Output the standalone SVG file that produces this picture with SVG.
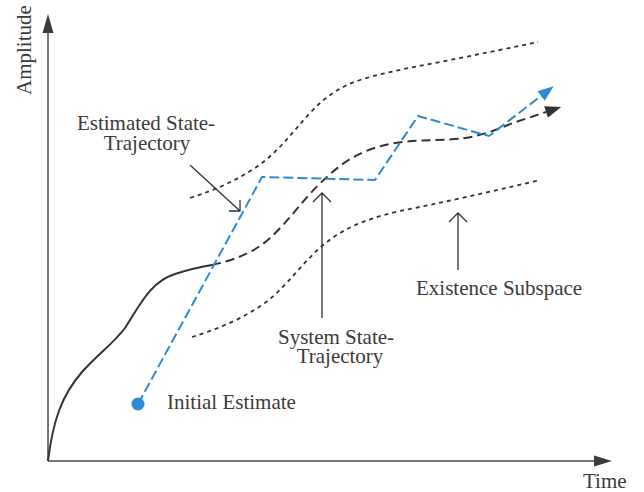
<svg xmlns="http://www.w3.org/2000/svg" width="644" height="492" viewBox="0 0 644 492">
  <style>
    .lbl { font-family: "Liberation Serif", "Times New Roman", serif; font-size: 21px; fill: #3b3b3b; }
    .axis { stroke: #4a4a4a; stroke-width: 1.5; fill: none; }
    .bound { stroke: #333; stroke-width: 1.8; fill: none; stroke-dasharray: 4 4; }
    .sys { stroke: #333; stroke-width: 2; fill: none; }
    .est { stroke: #2f8bd0; stroke-width: 2; fill: none; stroke-dasharray: 10 4; }
    .ptr { stroke: #333; stroke-width: 1.3; fill: none; }
  </style>
  <defs>
    <marker id="head-dark" viewBox="0 0 16 12" refX="0" refY="6" markerWidth="16" markerHeight="12" orient="auto" markerUnits="userSpaceOnUse">
      <path d="M0,0 L16,6 L0,12 Z" fill="#333"/>
    </marker>
    <marker id="head-blue" viewBox="0 0 16 12" refX="0" refY="6" markerWidth="16" markerHeight="12" orient="auto" markerUnits="userSpaceOnUse">
      <path d="M0,0 L16,6 L0,12 Z" fill="#2f8bd0"/>
    </marker>
  </defs>
  <rect width="644" height="492" fill="#fff"/>

  <!-- axes -->
  <g id="axes">
    <path class="axis" d="M48,461 V30 M48,461 H597"/>
    <polygon points="48,14 42.5,33 53.5,33" fill="#3b3b3b"/>
    <polygon points="612,461 594,455.5 594,466.5" fill="#3b3b3b"/>
    <text class="lbl" transform="translate(31,95) rotate(-90)">Amplitude</text>
    <text class="lbl" x="583" y="488">Time</text>
  </g>

  <!-- curves -->
  <g id="connectors">
    <g id="existence-subspace">
      <path class="bound" d="M190,198 C215,190 235,181 255,168 C280,151 292,132 310,113 C325,97 340,86 363,79 C390,71 420,66 450,60 C480,54 510,48 538,42"/>
      <path class="bound" d="M192,337 C215,330 240,320 262,305 C285,289 300,265 322,246 C340,231 360,220 400,211 C440,203 490,192 540,180"/>
    </g>
    <g id="system-trajectory">
      <path class="sys" d="M48,461 C53,420 62,395 82,372 C100,352 112,345 125,328 C140,305 150,282 175,274 C190,269 200,267 212,265"/>
      <path class="sys" stroke-dasharray="9 5" marker-end="url(#head-dark)" d="M212,265 C235,260 255,252 270,238 C290,220 305,196 327,177 C345,160 365,148 395,143 C420,139 445,141 465,138 C485,135 500,128 513,123 L546,112"/>
    </g>
    <g id="estimated-trajectory">
      <path class="est" marker-end="url(#head-blue)" d="M138,404 L262,177 L375,180 L418,116 L489,136 L541,96"/>
    </g>
  </g>

  <!-- labelled nodes -->
  <g id="initial-estimate">
    <circle cx="138" cy="404" r="6.5" fill="#2f8bd0"/>
    <text class="lbl" x="167" y="409">Initial Estimate</text>
  </g>

  <g id="estimated-label">
    <text class="lbl" text-anchor="middle"><tspan x="146" y="130">Estimated State-</tspan><tspan x="147" y="150">Trajectory</tspan></text>
    <path class="ptr" d="M190,165 L240,211 M229,211 H240 V200"/>
  </g>

  <g id="system-label">
    <text class="lbl" text-anchor="middle"><tspan x="336" y="344">System State-</tspan><tspan x="340" y="363">Trajectory</tspan></text>
    <path class="ptr" d="M322,318 V193 M313,202 L322,193 L331,202"/>
  </g>

  <g id="existence-label">
    <text class="lbl" x="416" y="295">Existence Subspace</text>
    <path class="ptr" stroke="#555" d="M458,270 V213 M449,222 L458,213 L467,222"/>
  </g>
</svg>
